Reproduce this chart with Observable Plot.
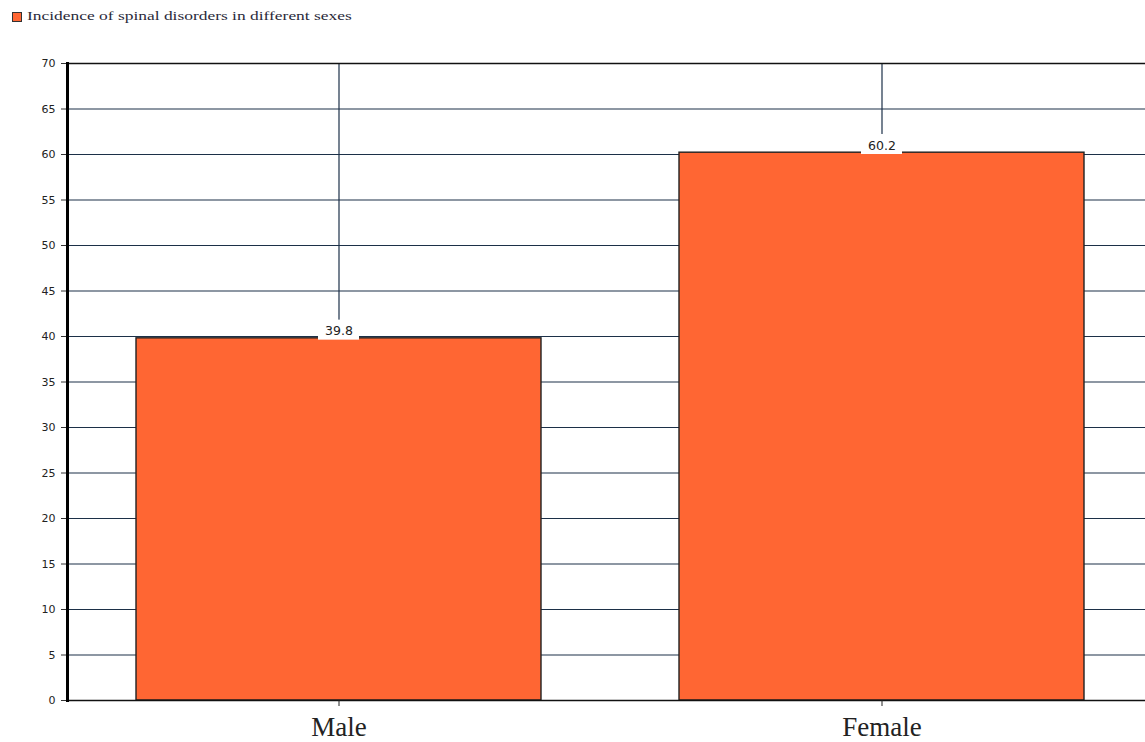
<!DOCTYPE html>
<html>
<head>
<meta charset="utf-8">
<script src="https://cdn.jsdelivr.net/npm/d3@7"></script>
<script src="https://cdn.jsdelivr.net/npm/@observablehq/plot@0.6"></script>
<style>
  html, body { margin: 0; padding: 0; background: #fff; overflow: hidden; }
  #legend { height: 40px; position: relative; font-family: "Liberation Serif", "DejaVu Serif", serif; font-size: 13px; color: #2a2a3a; }
  #legend .sw { position: absolute; left: 12px; top: 12px; width: 8px; height: 8px; background: #ff6633; border: 1px solid #333; }
  #legend .lb { position: absolute; left: 27px; top: 8px; transform: scaleX(1.34); transform-origin: left center; white-space: nowrap; }
</style>
</head>
<body>
<div id="legend"><span class="sw"></span><span class="lb">Incidence of spinal disorders in different sexes</span></div>
<div id="chart"></div>
<script>
const categories = ["Male", "Female"];
const values = [39.8, 60.2];
const yTicks = [0, 5, 10, 15, 20, 25, 30, 35, 40, 45, 50, 55, 60, 65, 70];

const data = categories.map((c, i) => ({sex: c, value: values[i]}));

const chart = Plot.plot({
  width: 1145,
  height: 702,
  marginLeft: 67,
  marginRight: 0,
  marginTop: 23,
  marginBottom: 42,
  x: {domain: categories, range: [67.5, 1153.5], paddingInner: 0.254, paddingOuter: 0.127, label: null},
  y: {domain: [0, 70], ticks: yTicks, label: null},
  marks: [
    Plot.ruleY(yTicks, {stroke: "#1c3048", strokeWidth: 1.2}),
    Plot.ruleX(data, {x: "sex", y1: 0, y2: 70, stroke: "#1c3048", strokeWidth: 1.2}),
    Plot.barY(data, {x: "sex", y: "value", fill: "#ff6633", stroke: "#222", strokeWidth: 1.4}),
    Plot.barY(data, {x: "sex", y1: d => d.value - 0.2, y2: d => d.value + 2.0, fill: "white", insetLeft: 182, insetRight: 182}),
    Plot.text(data, {x: "sex", y: "value", text: d => d.value.toFixed(1), lineAnchor: "bottom", dy: -3,
      fill: "#222", fontFamily: "DejaVu Sans, sans-serif", fontSize: 12.5}),
    Plot.ruleY([70], {stroke: "#111", strokeWidth: 1.5}),
    Plot.ruleY([0], {stroke: "#111", strokeWidth: 1.5}),
    Plot.axisY({ticks: yTicks, tickSize: 6, tickPadding: 6, stroke: "#333", fill: "#222",
      fontFamily: "DejaVu Sans, sans-serif", fontSize: 11, fontWeight: 500, label: null}),
    Plot.axisX({tickSize: 6, tickPadding: 10, stroke: "#222", fill: "#222",
      fontFamily: "Liberation Serif, serif", fontSize: 27, label: null}),
    Plot.frame({anchor: "left", stroke: "#000", strokeWidth: 3})
  ]
});
document.getElementById("chart").appendChild(chart);
</script>
</body>
</html>
